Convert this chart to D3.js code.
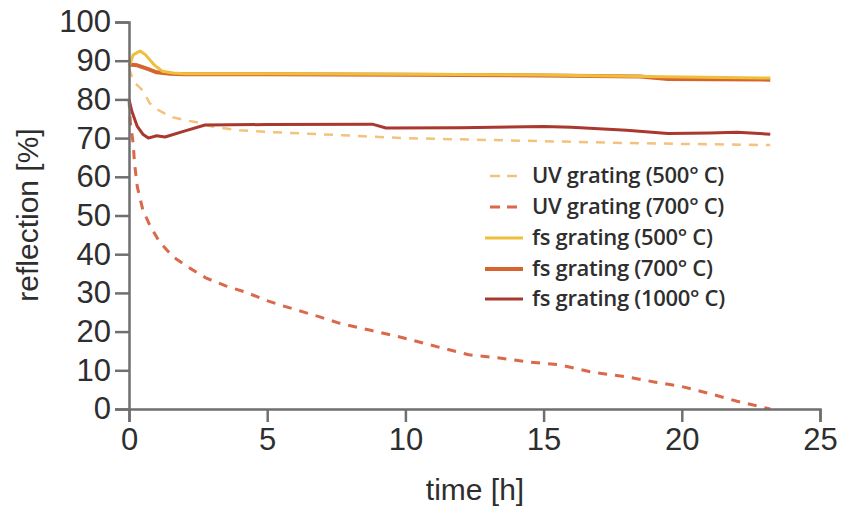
<!DOCTYPE html>
<html>
<head>
<meta charset="utf-8">
<script src="https://cdn.jsdelivr.net/npm/d3@7/dist/d3.min.js"></script>
<style>
  html, body { margin: 0; padding: 0; background: #fff; }
  svg { display: block; }
</style>
</head>
<body>
<svg id="chart" width="843" height="511"></svg>
<script>
// Reflection of gratings during annealing, time in hours
const uv500Time  = [0, 0.1, 0.25, 0.5, 0.75, 1, 1.5, 2, 2.5, 3, 4, 5, 7.5, 10, 12.5, 15, 17.5, 20, 23.2];
const uv500Value = [88, 86, 84, 82.3, 79, 77.5, 75.5, 74.7, 74, 73, 72, 71.6, 70.8, 70, 69.6, 69.2, 68.8, 68.5, 68.2];

const uv700Time  = [0, 0.05, 0.15, 0.2, 0.3, 0.5, 0.75, 1.1, 1.6, 2.2, 2.8, 3.5, 4.3, 4.9, 5.6, 6.3, 6.9, 7.6, 8.7, 9.8, 11.2, 12.3, 13.4, 14.5, 15.6, 16.7, 18, 19, 20, 21, 22, 23.2];
const uv700Value = [80, 74, 68.7, 63.5, 57.4, 51.5, 47.5, 43.2, 39.3, 36.4, 33.8, 31.8, 30, 28.2, 26.6, 25.1, 23.8, 22.2, 20.4, 18.6, 16, 14, 13.2, 12.1, 11.4, 9.6, 8.3, 7, 5.8, 4, 2, 0];

const fs500Time  = [0, 0.15, 0.4, 0.6, 0.9, 1.2, 1.6, 2, 5, 10, 15, 18, 20, 23.2];
const fs500Value = [88.5, 91.5, 92.5, 91.5, 89, 87.3, 86.8, 86.6, 86.6, 86.5, 86.3, 86, 85.8, 85.5];

const fs700Time  = [0, 0.3, 0.7, 1, 1.5, 2, 5, 10, 15, 18.5, 19.5, 23.2];
const fs700Value = [89, 88.8, 87.8, 87, 86.6, 86.5, 86.5, 86.4, 86.2, 85.9, 85.3, 85.1];

const fs1000Time  = [0, 0.1, 0.3, 0.5, 0.7, 1, 1.3, 2, 2.75, 5, 8.8, 9.3, 12, 15, 16, 18, 19.5, 21, 22, 23.2];
const fs1000Value = [80, 77, 73, 71, 70, 70.6, 70.3, 71.8, 73.4, 73.5, 73.6, 72.6, 72.7, 73, 72.8, 72, 71.2, 71.3, 71.5, 71];

const xTicks = [0, 5, 10, 15, 20, 25];
const yTicks = [0, 10, 20, 30, 40, 50, 60, 70, 80, 90, 100];

const seriesNames = ["UV grating (500° C)", "UV grating (700° C)", "fs grating (500° C)", "fs grating (700° C)", "fs grating (1000° C)"];

const series = [
  { name: seriesNames[0], t: uv500Time,  v: uv500Value,  color: "#f3c27c", width: 2.5, dash: "9,8" },
  { name: seriesNames[1], t: uv700Time,  v: uv700Value,  color: "#d9694a", width: 3,   dash: "9,8" },
  { name: seriesNames[2], t: fs500Time,  v: fs500Value,  color: "#efbe3a", width: 3,   dash: null },
  { name: seriesNames[3], t: fs700Time,  v: fs700Value,  color: "#d6642e", width: 4,   dash: null },
  { name: seriesNames[4], t: fs1000Time, v: fs1000Value, color: "#a9382e", width: 3,   dash: null }
];

const svg = d3.select("#chart");
const x = d3.scaleLinear().domain([0, 25]).range([129, 820]);
const y = d3.scaleLinear().domain([0, 100]).range([409, 22]);

const axisColor = "#6f6f6f";
const textColor = "#2e2e2e";
const tickFont = "Liberation Sans, Arial, Helvetica, sans-serif";

// curves
const line = d3.line().x(d => x(d[0])).y(d => y(d[1]));
const drawOrder = [0, 1, 3, 2, 4];
drawOrder.forEach(i => {
  const s = series[i];
  const pts = s.t.map((t, k) => [t, s.v[k]]);
  svg.append("path")
    .datum(pts)
    .attr("d", line)
    .attr("fill", "none")
    .attr("stroke", s.color)
    .attr("stroke-width", s.width)
    .attr("stroke-linejoin", "round")
    .attr("stroke-dasharray", s.dash);
});

// axes
const xAxis = d3.axisBottom(x).tickValues(xTicks).tickSize(13).tickPadding(6);
const yAxis = d3.axisLeft(y).tickValues(yTicks).tickSize(14).tickPadding(4);

function styleAxis(g) {
  g.select(".domain").attr("stroke", axisColor).attr("stroke-width", 2.5);
  g.selectAll(".tick line").attr("stroke", axisColor).attr("stroke-width", 2.5);
  g.selectAll(".tick text")
    .attr("fill", textColor)
    .style("font-family", tickFont)
    .style("font-size", "31px");
}

svg.append("g").attr("transform", "translate(0,409)").call(xAxis).call(styleAxis);
svg.append("g").attr("transform", "translate(129,0)").call(yAxis).call(styleAxis);

// axis titles
svg.append("text")
  .attr("x", 475).attr("y", 500)
  .attr("text-anchor", "middle")
  .attr("fill", textColor)
  .style("font-family", tickFont)
  .style("font-size", "30px")
  .text("time [h]");

svg.append("text")
  .attr("transform", "translate(38,215) rotate(-90)")
  .attr("text-anchor", "middle")
  .attr("fill", textColor)
  .style("font-family", tickFont)
  .style("font-size", "30px")
  .text("reflection [%]");

// legend
const legendY = [176, 207, 238, 269, 299];
const legend = svg.append("g");
series.forEach((s, i) => {
  const yy = legendY[i];
  legend.append("line")
    .attr("x1", s.dash ? 490 : 485).attr("x2", 523)
    .attr("y1", yy).attr("y2", yy)
    .attr("stroke", s.color)
    .attr("stroke-width", s.width)
    .attr("stroke-dasharray", s.dash ? "10,7" : null);
  legend.append("text")
    .attr("x", 532).attr("y", yy + 7)
    .attr("fill", textColor)
    .style("font-family", "Open Sans, sans-serif")
    .style("font-size", "22px")
    .style("font-weight", "600")
    .style("letter-spacing", "-0.3px")
    .text(s.name);
});
</script>
</body>
</html>
